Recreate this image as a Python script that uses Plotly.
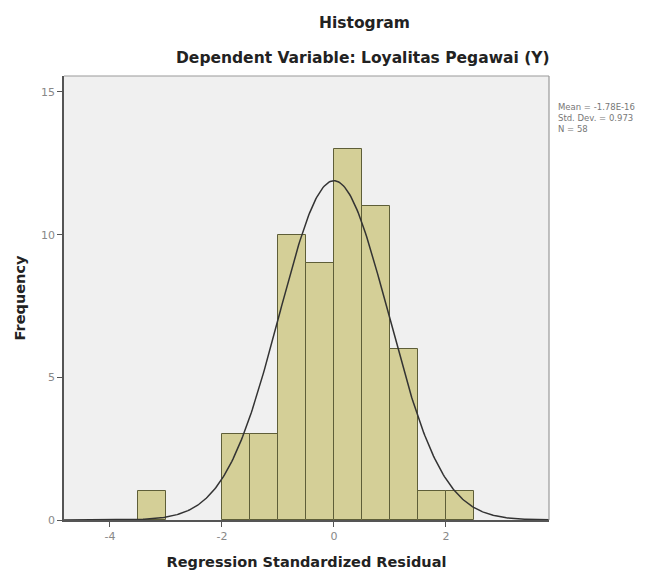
import numpy as np
import plotly.graph_objects as go

# Data
bin_left_edges = [-3.5, -2.0, -1.5, -1.0, -0.5, 0.0, 0.5, 1.0, 1.5, 2.0]
frequencies = [1, 3, 3, 10, 9, 13, 11, 6, 1, 1]
bin_width = 0.5
mean_label = "-1.78E-16"
mean_val = 0.0
std_dev = 0.973
n_obs = 58
x_ticks = [-4, -2, 0, 2]
y_ticks = [0, 5, 10, 15]

centers = [e + bin_width / 2 for e in bin_left_edges]

xr = [-4.82, 3.84]
yr = [0, 15.56]

# Normal curve implied by the reported mean / SD / N
xs = np.linspace(xr[0], xr[1], 400)
ys = n_obs * bin_width / (std_dev * np.sqrt(2 * np.pi)) * np.exp(-0.5 * ((xs - mean_val) / std_dev) ** 2)

font_family = "DejaVu Sans, Verdana, sans-serif"

# page offset compensation
off = 7
PL, PR, PT, PB = 63, 548, 75, 519
PW, PH = PR - PL, PB - PT

fig = go.Figure()
fig.add_trace(go.Bar(
    x=centers, y=frequencies, width=bin_width,
    marker=dict(color="#d4cf97", line=dict(color="#5e5e38", width=1)),
    hoverinfo="skip",
))
fig.add_trace(go.Scatter(
    x=xs, y=ys, mode="lines",
    line=dict(color="#333333", width=1.5),
    hoverinfo="skip",
))

fig.update_layout(
    width=659, height=572,
    margin=dict(l=PL - off, r=659 + off - PR, t=PT - off, b=572 + off - PB, autoexpand=False),
    paper_bgcolor="white",
    plot_bgcolor="#f0f0f0",
    showlegend=False,
    font=dict(family=font_family, color="#222222"),
    bargap=0,
)
fig.update_xaxes(
    range=xr, tickvals=x_ticks, ticktext=[str(v) for v in x_ticks],
    showgrid=False, zeroline=False,
    showline=True, linecolor="#555555", linewidth=1.5,
    ticks="outside", ticklen=5, tickcolor="#555555",
    tickfont=dict(size=11, color="#888888", family=font_family),
    title=dict(text="<b>Regression Standardized Residual</b>",
               font=dict(size=14.5, color="#222222", family=font_family), standoff=15),
)
fig.update_yaxes(
    range=yr, tickvals=y_ticks, ticktext=[str(v) for v in y_ticks],
    showgrid=False, zeroline=False,
    showline=True, linecolor="#555555", linewidth=1.5,
    ticks="outside", ticklen=5, tickcolor="#555555",
    tickfont=dict(size=11, color="#888888", family=font_family),
    title=dict(text="<b>Frequency</b>",
               font=dict(size=14.5, color="#222222", family=font_family), standoff=12),
)

# Top/right frame
fig.add_shape(type="line", xref="paper", yref="paper", x0=0, x1=1, y0=1, y1=1,
              line=dict(color="#999999", width=1.2))
fig.add_shape(type="line", xref="paper", yref="paper", x0=1, x1=1, y0=0, y1=1,
              line=dict(color="#999999", width=1.2))

def px_x(x):
    return (x - PL) / PW

def px_y(y):
    return (PB - y) / PH

# Titles
fig.add_annotation(text="<b>Histogram</b>", xref="paper", yref="paper",
                   x=px_x(363), y=px_y(22), xanchor="center", yanchor="middle", showarrow=False,
                   font=dict(size=15.5, color="#222222", family=font_family))
fig.add_annotation(text="<b>Dependent Variable: Loyalitas Pegawai (Y)</b>", xref="paper", yref="paper",
                   x=px_x(362), y=px_y(57), xanchor="center", yanchor="middle", showarrow=False,
                   font=dict(size=15.5, color="#222222", family=font_family))

# Stats box
stats_lines = [f"Mean = {mean_label}", f"Std. Dev. = {std_dev}", f"N = {n_obs}"]
for i, line in enumerate(stats_lines):
    fig.add_annotation(text=line, xref="paper", yref="paper",
                       x=px_x(555), y=px_y(106 + 11 * i),
                       xanchor="left", yanchor="middle", align="left", showarrow=False,
                       font=dict(size=8.5, color="#777777", family=font_family))

fig.write_html("out.html")
